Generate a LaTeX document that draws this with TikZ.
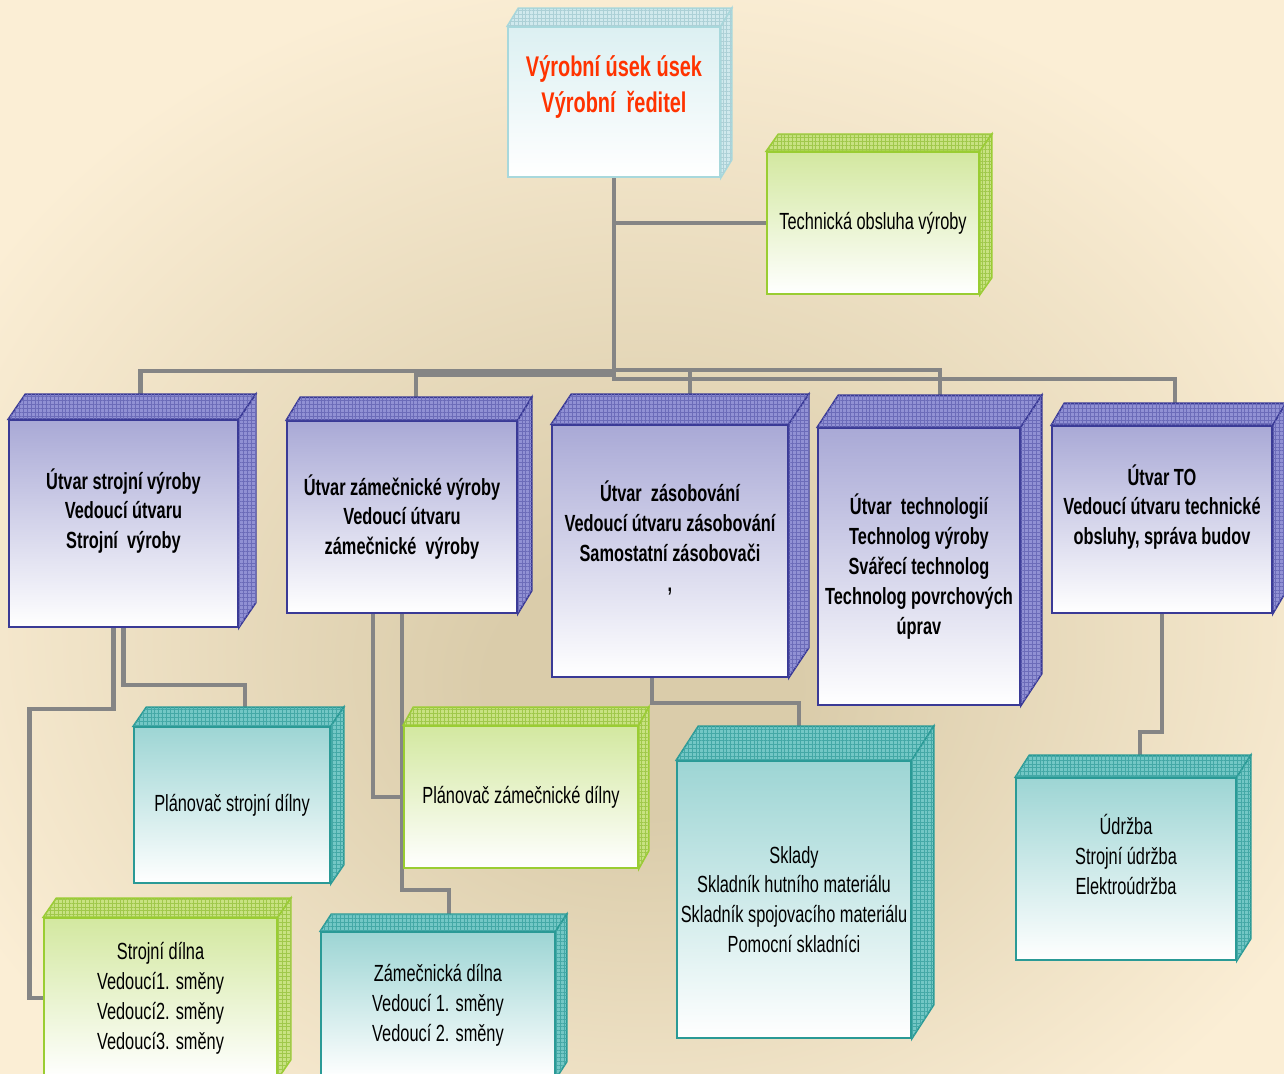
\documentclass[tikz,border=0pt]{standalone}
\usepackage{fontspec}
\setmainfont{Liberation Sans}[FakeStretch=0.7]
\usetikzlibrary{calc,patterns.meta}

\definecolor{bgout}{RGB}{251,238,213}
\definecolor{bgmid}{RGB}{218,204,170}
\definecolor{wire}{RGB}{133,133,133}
\definecolor{topred}{RGB}{255,51,0}
\definecolor{cyanline}{RGB}{168,216,220}
\definecolor{cyantop}{RGB}{220,240,242}
\definecolor{cyanside}{RGB}{208,233,237}
\definecolor{cyangrid}{RGB}{172,208,214}
\definecolor{greenline}{RGB}{154,205,50}
\definecolor{greentop}{RGB}{211,232,160}
\definecolor{greenside}{RGB}{200,226,130}
\definecolor{greengrid}{RGB}{160,200,75}
\definecolor{violetline}{RGB}{58,58,150}
\definecolor{violettop}{RGB}{169,169,214}
\definecolor{violetside}{RGB}{145,145,212}
\definecolor{violetgrid}{RGB}{108,108,185}
\definecolor{tealline}{RGB}{42,154,150}
\definecolor{tealtop}{RGB}{157,213,212}
\definecolor{tealside}{RGB}{115,199,197}
\definecolor{tealgrid}{RGB}{68,168,166}

\pgfdeclarelayer{back}
\pgfdeclarelayer{wires}
\pgfsetlayers{back,wires,main}
\pgfdeclareradialshading{paper}{\pgfpoint{0bp}{-8bp}}{color(0bp)=(bgmid); color(6bp)=(bgmid); color(30bp)=(bgout); color(50bp)=(bgout)}

\newcommand{\chartfont}{\fontsize{13.3}{17}\selectfont}
\newcommand{\topfont}{\fontsize{16.2}{20.4}\selectfont\bfseries}

% top and right face of a box: node, offset, colour
\newcommand{\boxdepth}[3]{%
  \path (#1.north west) ++(#2) coordinate (#1-a)
        (#1.north east) ++(#2) coordinate (#1-b)
        (#1.south east) ++(#2) coordinate (#1-c)
        (#1.north) ++(#2) coordinate (#1-top);
  \draw[face=#3] (#1.north west) -- (#1-a) -- (#1-b) -- (#1.north east) -- cycle;
  \draw[face=#3] (#1.north east) -- (#1-b) -- (#1-c) -- (#1.south east) -- cycle;}

\begin{document}
\begin{tikzpicture}[x=0.02cm, y=-0.02cm,
    box/.style={draw=#1line, line width=0.9pt, top color=#1top, bottom color=white,
      inner sep=0pt, align=center, font=\chartfont},
    head/.style={box=#1, font=\chartfont\bfseries},
    face/.style={draw=#1line, line width=0.9pt, fill=#1side,
      postaction={pattern={Hatch[angle=0,distance=2.2pt,line width=0.25pt]}, pattern color=#1grid}},
    link/.style={draw=wire, line width=2.3pt},
    sz/.style 2 args={minimum width=#1*0.02cm, minimum height=#2*0.02cm}]
	\begin{pgfonlayer}{back}
		\shade[shading=paper] (0,0) rectangle (1284,1073);
	\end{pgfonlayer}
	\useasboundingbox (0,0) rectangle (1284,1073);
	%
	\node[box=cyan, sz={212}{150}, text=topred, font=\topfont] (vr) at (614,102) {Výrobní úsek úsek\\Výrobní\ \ ředitel\\~};
	\node[box=green, sz={212}{142}] (tob) at (873,223) {Technická obsluha výroby};
	%
	\node[head=violet, sz={229}{207}] (usv) at (123.5,523.5) {Útvar strojní výroby\\Vedoucí útvaru\\Strojní\ \ výroby\\~};
	\node[head=violet, sz={230}{192}] (uzv) at (402,517) {Útvar zámečnické výroby\\Vedoucí útvaru\\zámečnické\ \ výroby};
	\node[head=violet, sz={236}{252}] (uzs) at (670,551) {Útvar\ \ zásobování\\Vedoucí útvaru zásobování\\Samostatní zásobovači\\,\\~};
	\node[head=violet, sz={202}{277}] (ute) at (919,566.5) {Útvar\ \ technologií\\Technolog výroby\\Svářecí technolog\\Technolog povrchových\\úprav};
	\node[head=violet, sz={220}{187}] (uto) at (1162,519.5) {Útvar TO\\Vedoucí útvaru technické\\obsluhy, správa budov\\~};
	%
	\node[box=teal, sz={196}{156}] (psd) at (232,805) {Plánovač strojní dílny};
	\node[box=green, sz={234}{142}] (pzd) at (521,797) {Plánovač zámečnické dílny};
	\node[box=green, sz={233}{160}] (sdi) at (160.5,998) {Strojní dílna\\Vedoucí1. směny\\Vedoucí2. směny\\Vedoucí3. směny};
	\node[box=teal, sz={234}{146}] (zdi) at (438,1005) {Zámečnická dílna\\Vedoucí 1. směny\\Vedoucí 2. směny};
	\node[box=teal, sz={234}{277}] (skl) at (794,899.5) {Sklady\\Skladník hutního materiálu\\Skladník spojovacího materiálu\\Pomocní skladníci};
	\node[box=teal, sz={220}{182}] (udr) at (1126,869) {Údržba\\Strojní údržba\\Elektroúdržba\\~};
	%
	\boxdepth{vr}{11,-18}{cyan}
	\boxdepth{tob}{12,-17}{green}
	\boxdepth{usv}{17,-25}{violet}
	\boxdepth{uzv}{14,-23}{violet}
	\boxdepth{uzs}{20,-30}{violet}
	\boxdepth{ute}{21,-32}{violet}
	\boxdepth{uto}{13,-22}{violet}
	\boxdepth{psd}{13,-19}{teal}
	\boxdepth{pzd}{10,-18}{green}
	\boxdepth{sdi}{13,-19}{green}
	\boxdepth{zdi}{11,-17}{teal}
	\boxdepth{skl}{22,-34}{teal}
	\boxdepth{udr}{14,-22}{teal}
	%
	\begin{pgfonlayer}{wires}
		\draw[link] (vr.south) |- (tob.west);
		\draw[link] (vr.south) -- ++(0,193) -| (usv-top);
		\draw[link] (vr.south) -- ++(0,197) -| (uzv-top);
		\draw[link] (vr.south) -- ++(0,192) -| (uzs-top);
		\draw[link] (vr.south) -- ++(0,192) -| (ute-top);
		\draw[link] (vr.south) -- ++(0,201) -| (uto-top);
		\draw[link] ($(usv.south)+(-10,0)$) -- ++(0,81) -- ++(-84,0) |- (sdi.west);
		\draw[link] (usv.south) -- ++(0,57) -| (psd-top);
		\draw[link] ($(uzv.south)+(-29,0)$) |- (pzd.west);
		\draw[link] (uzv.south) -- ++(0,276) -| (zdi-top);
		\draw[link] ($(uzs.south)+(-18,0)$) -- ++(0,25) -| ($(skl-top)+(-17,0)$);
		\draw[link] (uto.south) -- ++(0,118) -| (udr-top);
	\end{pgfonlayer}
\end{tikzpicture}
\end{document}
